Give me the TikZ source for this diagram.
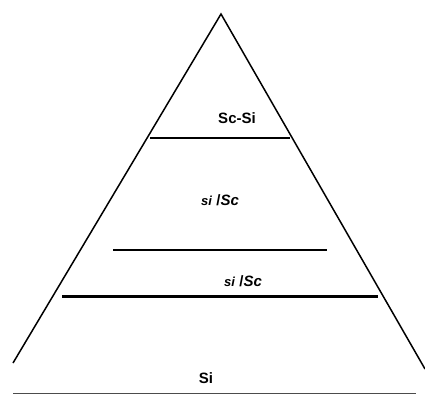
\documentclass[tikz,border=0pt]{standalone}
\usepackage{fontspec}
\setmainfont{Liberation Sans}
\begin{document}
\begin{tikzpicture}[x=1pt,y=-1pt,
  lbl/.style={font=\bfseries\fontsize{15}{17}\selectfont, inner sep=0pt},
  edge/.style={line width=1.5pt},
  layer/.style={line width=1.4pt},
  thick layer/.style={line width=3pt}]
\useasboundingbox (0,0) rectangle (425,394);
\coordinate (apex) at (221,14);
\coordinate (bl) at (13,363);
\coordinate (br) at (425,369);
\draw[edge] (bl) -- (apex) -- (br);
\coordinate (l1a) at (150,138); \coordinate (l1b) at (290,138);
\coordinate (l2a) at (113,250); \coordinate (l2b) at (327,250);
\coordinate (l3a) at (62,296);  \coordinate (l3b) at (378,296);
\coordinate (l4a) at (13,393);  \coordinate (l4b) at (416,393);
\draw[layer] (l1a) -- (l1b);
\draw[layer] (l2a) -- (l2b);
\draw[thick layer] (l3a) -- (l3b);
\draw[line width=0.9pt, black!70] (l4a) -- (l4b);
\node[lbl] (t1) at (237,118) {Sc-Si};
\node[lbl] (t2) at (220,200) {{\fontsize{13}{14}\selectfont\textit{si}} /\textit{Sc}};
\node[lbl] (t3) at (243,281) {{\fontsize{13}{14}\selectfont\textit{si}} /\textit{Sc}};
\node[lbl] (t4) at (206,378) {Si};
\end{tikzpicture}
\end{document}
